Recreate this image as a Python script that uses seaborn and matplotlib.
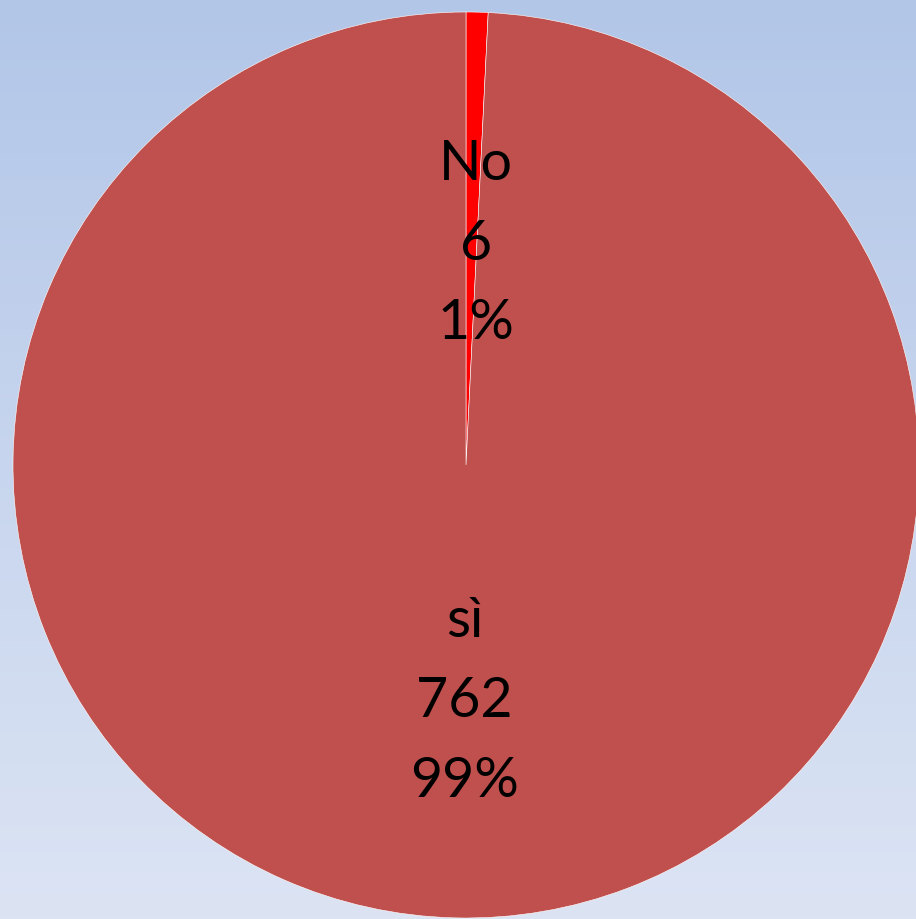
import numpy as np
import matplotlib.pyplot as plt
import seaborn as sns

# dati
categorie = ['No', 'sì']
valori = [6, 762]
colori = ['#FF0000', '#C0504D']

sns.set_style('white')
plt.rcParams['font.family'] = ['Lato', 'DejaVu Sans']

fig = plt.figure(figsize=(9.16, 9.20), dpi=100)

# sfondo sfumato
bg = fig.add_axes([0, 0, 1, 1])
grad = np.linspace(0, 1, 256).reshape(-1, 1)
cmap = sns.blend_palette(['#B2C6E8', '#DCE4F4'], as_cmap=True)
bg.imshow(grad, aspect='auto', cmap=cmap, extent=[0, 1, 0, 1], origin='upper')
bg.axis('off')

# torta
cx, cy, r = 466, 466, 453
ax = fig.add_axes([0, 0, 1, 1])
ax.patch.set_alpha(0)
wedges, texts = ax.pie(valori, colors=colori, startangle=90, counterclock=False,
                       radius=1, labeldistance=0.5,
                       labels=[f'{c}\n{v}\n{round(v / sum(valori) * 100)}%'
                               for c, v in zip(categorie, valori)],
                       wedgeprops=dict(edgecolor='white', linewidth=0.4))
distanze = [0.49, 0.52]
for w, t, d in zip(wedges, texts, distanze):
    ang = np.deg2rad((w.theta1 + w.theta2) / 2)
    t.set_position((d * np.cos(ang) + 0.01, d * np.sin(ang)))
    t.set_ha('center')
    t.set_va('center')
    t.set_fontsize(40)
    t.set_linespacing(1.7)
    t.set_color('black')

ax.set_xlim(-cx / r, (916 - cx) / r)
ax.set_ylim(-(920 - cy) / r, cy / r)
ax.set_aspect('auto')
ax.axis('off')

plt.savefig('out.png', dpi=100)
